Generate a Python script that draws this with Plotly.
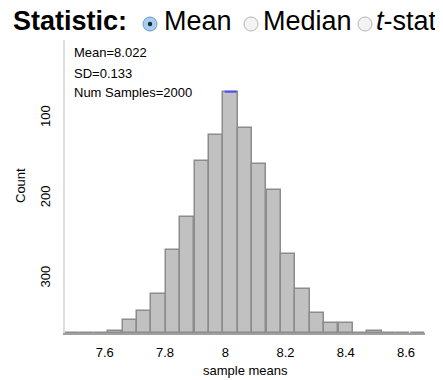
import plotly.graph_objects as go

# ---- data ----
bin_left = [7.468, 7.516, 7.564, 7.611, 7.659, 7.707, 7.755, 7.803, 7.850, 7.898,
            7.946, 7.994, 8.042, 8.089, 8.137, 8.185, 8.233, 8.281, 8.328, 8.376,
            8.424, 8.472, 8.520, 8.567, 8.615]
bin_width = 0.0478
counts = [0, 0, 0, 2, 16, 27, 49, 103, 145, 215,
          247, 301, 256, 211, 179, 98, 55, 25, 13, 13,
          0, 2, 0, 0, 0]
x_range = [7.468, 8.663]
x_tick_vals = [7.6, 7.8, 8.0, 8.2, 8.4, 8.6]
x_tick_text = ["7.6", "7.8", "8", "8.2", "8.4", "8.6"]
y_max = 368
y_tick_labels = [0, 100, 200, 300]
stats_lines = ["Mean=8.022", "SD=0.133", "Num Samples=2000"]
options = ["Mean", "Median", "<i>t</i>-statistic"]
peak_index = counts.index(max(counts))

# ---- layout geometry (page pixels; page body has an 8px margin) ----
OFF = 8
PAGE_W, PAGE_H = 443, 380
W, H = PAGE_W - OFF, PAGE_H - OFF
PLOT_L, PLOT_R, PLOT_T, PLOT_B = 65, 425, 38, 333   # plot area in page pixels
ML, MT = PLOT_L - OFF, PLOT_T - OFF
MR, MB = W - (PLOT_R - OFF), H - (PLOT_B - OFF)
PW, PH = PLOT_R - PLOT_L, PLOT_B - PLOT_T


def px(x):
    return (x - PLOT_L) / PW


def py(y):
    return (PLOT_B - y) / PH


FONT = "Liberation Sans, Arial, Helvetica, sans-serif"

fig = go.Figure()
fig.add_trace(go.Bar(
    x=bin_left, y=counts, width=bin_width, offset=0,
    marker=dict(color="#c1c1c1", line=dict(color="#8c8c8c", width=1.5)),
    hoverinfo="skip",
))
# blue highlight on top of the tallest bar
fig.add_trace(go.Scatter(
    x=[bin_left[peak_index] + 0.004, bin_left[peak_index] + bin_width - 0.004],
    y=[counts[peak_index], counts[peak_index]],
    mode="lines", line=dict(color="#4b4bff", width=2), hoverinfo="skip",
))

annotations = []
for i, t in enumerate(stats_lines):
    annotations.append(dict(text=t, x=px(72), y=py(53 + 20 * i), xref="paper", yref="paper",
                            xanchor="left", yanchor="middle", showarrow=False,
                            font=dict(size=13, color="#000", family=FONT)))
annotations.append(dict(text="Count", x=px(20), y=py(186), xref="paper", yref="paper",
                        textangle=-90, xanchor="center", yanchor="middle", showarrow=False,
                        font=dict(size=13, color="#000", family=FONT)))
annotations.append(dict(text="sample means", x=0.5, y=py(370), xref="paper", yref="paper",
                        xanchor="center", yanchor="middle", showarrow=False,
                        font=dict(size=13, color="#000", family=FONT)))
# header
annotations.append(dict(text="<b>Statistic:</b>", x=px(11), y=py(21), xref="paper", yref="paper",
                        xanchor="left", yanchor="middle", showarrow=False,
                        font=dict(size=27, color="#000", family=FONT)))
opt_x = [162, 261, 374]
for t, xo in zip(options, opt_x):
    annotations.append(dict(text=t, x=px(xo), y=py(21), xref="paper", yref="paper",
                            xanchor="left", yanchor="middle", showarrow=False,
                            font=dict(size=27, color="#000", family=FONT)))

shapes = [
    # white header band covering the top of the axis
    dict(type="rect", xref="paper", yref="paper", x0=px(0), x1=px(PAGE_W), y0=py(40), y1=py(0),
         fillcolor="white", line=dict(width=0), layer="above"),
]
radio_cx = [150, 251, 365]
for i, cx in enumerate(radio_cx):
    sel = i == 0
    shapes.append(dict(type="circle", xref="paper", yref="paper",
                       x0=px(cx - 7), x1=px(cx + 7), y0=py(31), y1=py(17),
                       fillcolor="#a9cdee" if sel else "#f3f3f3",
                       line=dict(color="#6d9cc8" if sel else "#b5b5b5", width=1), layer="above"))
    if sel:
        shapes.append(dict(type="circle", xref="paper", yref="paper",
                           x0=px(cx - 2.2), x1=px(cx + 2.2), y0=py(26.2), y1=py(21.8),
                           fillcolor="#1b2733", line=dict(width=0), layer="above"))

fig.update_layout(
    width=W, height=H,
    margin=dict(l=ML, r=MR, t=MT, b=MB, pad=0),
    paper_bgcolor="white", plot_bgcolor="white",
    showlegend=False, bargap=0,
    font=dict(family=FONT, size=13, color="#000"),
    xaxis=dict(range=x_range, tickvals=x_tick_vals, ticktext=x_tick_text,
               showgrid=False, zeroline=False, showline=True, linecolor="#a0a0a0", linewidth=2,
               ticks="outside", ticklen=6, tickcolor="rgba(0,0,0,0)",
               tickfont=dict(size=13, family=FONT, color="#000")),
    yaxis=dict(range=[0, y_max], tickvals=[y_max - v for v in y_tick_labels],
               ticktext=[str(v) for v in y_tick_labels], tickangle=-90,
               showgrid=False, zeroline=False, showline=True, linecolor="#dcdcdc", linewidth=2,
               ticks="outside", ticklen=8, tickcolor="rgba(0,0,0,0)",
               tickfont=dict(size=13, family=FONT, color="#000")),
    annotations=annotations, shapes=shapes,
)

fig.write_html("out.html")
